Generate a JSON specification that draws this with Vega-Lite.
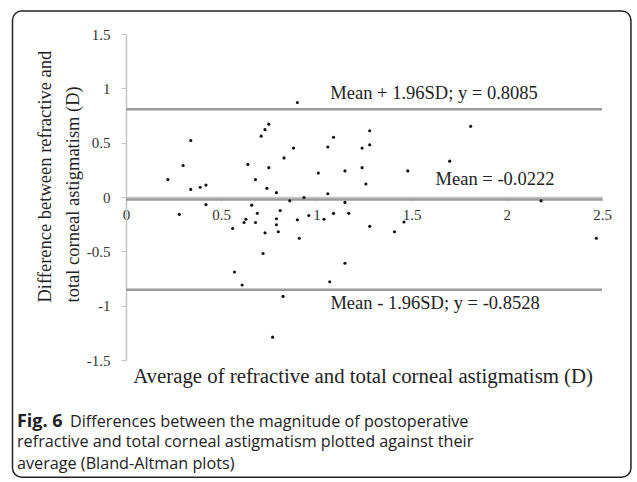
{
  "$schema": "https://vega.github.io/schema/vega-lite/v6.json",
  "width": 476,
  "height": 326,
  "autosize": {"type": "none"},
  "padding": {"left": 126, "top": 34, "right": 35, "bottom": 122},
  "background": "white",
  "config": {
    "view": {"stroke": null},
    "axis": {"grid": false}
  },
  "datasets": {
    "points": [
      {"avg": 0.22, "diff": 0.16}, {"avg": 0.30, "diff": 0.29}, {"avg": 0.34, "diff": 0.52}, {"avg": 0.34, "diff": 0.07},
      {"avg": 0.39, "diff": 0.09}, {"avg": 0.42, "diff": 0.11}, {"avg": 0.64, "diff": 0.30}, {"avg": 0.68, "diff": 0.16},
      {"avg": 0.71, "diff": 0.56}, {"avg": 0.73, "diff": 0.62}, {"avg": 0.75, "diff": 0.67}, {"avg": 0.75, "diff": 0.27},
      {"avg": 0.74, "diff": 0.08}, {"avg": 0.79, "diff": 0.04}, {"avg": 0.83, "diff": 0.36}, {"avg": 0.88, "diff": 0.45},
      {"avg": 0.90, "diff": 0.87}, {"avg": 1.01, "diff": 0.22}, {"avg": 1.06, "diff": 0.46}, {"avg": 1.09, "diff": 0.55},
      {"avg": 1.06, "diff": 0.03}, {"avg": 1.15, "diff": 0.24}, {"avg": 1.24, "diff": 0.45}, {"avg": 1.24, "diff": 0.27},
      {"avg": 1.26, "diff": 0.12}, {"avg": 1.28, "diff": 0.48}, {"avg": 1.28, "diff": 0.61}, {"avg": 1.48, "diff": 0.24},
      {"avg": 1.70, "diff": 0.33}, {"avg": 1.81, "diff": 0.65}, {"avg": 0.935, "diff": -0.005}, {"avg": 0.86, "diff": -0.035},
      {"avg": 1.15, "diff": -0.05}, {"avg": 2.18, "diff": -0.035}, {"avg": 0.28, "diff": -0.16}, {"avg": 0.42, "diff": -0.07},
      {"avg": 0.56, "diff": -0.29}, {"avg": 0.57, "diff": -0.69}, {"avg": 0.61, "diff": -0.81}, {"avg": 0.62, "diff": -0.235},
      {"avg": 0.63, "diff": -0.205}, {"avg": 0.66, "diff": -0.075}, {"avg": 0.68, "diff": -0.235}, {"avg": 0.69, "diff": -0.15},
      {"avg": 0.72, "diff": -0.52}, {"avg": 0.73, "diff": -0.33}, {"avg": 0.77, "diff": -1.29}, {"avg": 0.79, "diff": -0.20},
      {"avg": 0.79, "diff": -0.255}, {"avg": 0.80, "diff": -0.32}, {"avg": 0.81, "diff": -0.125}, {"avg": 0.825, "diff": -0.915},
      {"avg": 0.90, "diff": -0.21}, {"avg": 0.91, "diff": -0.38}, {"avg": 0.96, "diff": -0.17}, {"avg": 1.04, "diff": -0.205},
      {"avg": 1.07, "diff": -0.78}, {"avg": 1.09, "diff": -0.15}, {"avg": 1.15, "diff": -0.61}, {"avg": 1.17, "diff": -0.15},
      {"avg": 1.28, "diff": -0.27}, {"avg": 1.41, "diff": -0.32}, {"avg": 1.46, "diff": -0.23}, {"avg": 2.47, "diff": -0.38}
    ],
    "limits": [
      {"name": "upper", "value": 0.8085, "label": "Mean + 1.96SD; y = 0.8085"},
      {"name": "mean", "value": -0.0222, "label": "Mean = -0.0222"},
      {"name": "lower", "value": -0.8528, "label": "Mean - 1.96SD; y = -0.8528"}
    ],
    "caption": [
      {"line": 1, "t": "Differences between the magnitude of postoperative"},
      {"line": 2, "t": "refractive and total corneal astigmatism plotted against their"},
      {"line": 3, "t": "average (Bland-Altman plots)"}
    ]
  },
  "layer": [
    {
      "data": {"values": [{"frame": 1}]},
      "mark": {"type": "rect", "fill": null, "stroke": "#222", "strokeWidth": 1.5, "cornerRadius": 9},
      "encoding": {
        "x": {"datum": -0.596, "type": "quantitative", "scale": {"domain": [0, 2.5]}},
        "x2": {"datum": 2.652},
        "y": {"datum": 1.711, "type": "quantitative"},
        "y2": {"datum": -2.578}
      }
    },
    {
      "data": {"name": "limits"},
      "mark": {"type": "rule", "color": "#9a9a9a", "strokeWidth": 2.5},
      "encoding": {
        "x": {"datum": 0, "type": "quantitative"},
        "x2": {"datum": 2.5},
        "y": {"field": "value", "type": "quantitative"}
      }
    },
    {
      "data": {"name": "points"},
      "mark": {"type": "circle", "size": 10, "color": "#111", "opacity": 1},
      "encoding": {
        "x": {
          "field": "avg", "type": "quantitative",
          "scale": {"domain": [0, 2.5], "nice": false, "zero": false},
          "axis": {
            "title": null, "values": [0, 0.5, 1, 1.5, 2, 2.5], "offset": -163,
            "labelExpr": "'' + datum.value", "labelFlush": false, "labelOverlap": false,
            "labelFont": "Liberation Serif", "labelFontSize": 15, "labelColor": "#333", "labelPadding": 6,
            "domainColor": "#c4c4c4", "domainWidth": 1.5, "tickColor": "#c4c4c4", "tickSize": 4
          }
        },
        "y": {
          "field": "diff", "type": "quantitative",
          "scale": {"domain": [-1.5, 1.5], "nice": false},
          "axis": {
            "title": ["Difference between refractive and", "total corneal astigmatism (D)"],
            "values": [-1.5, -1, -0.5, 0, 0.5, 1, 1.5],
            "labelExpr": "'' + datum.value", "labelFlush": false, "labelOverlap": false,
            "labelFont": "Liberation Serif", "labelFontSize": 15, "labelColor": "#333", "labelPadding": 11,
            "domainColor": "#c4c4c4", "domainWidth": 1.5, "tickColor": "#c4c4c4", "tickSize": 5,
            "titleFont": "Liberation Serif", "titleFontSize": 18.5, "titleFontWeight": "normal", "titleColor": "#222",
            "titleLineHeight": 28, "titlePadding": 4, "titleAlign": "left", "titleY": 268
          }
        }
      }
    },
    {
      "data": {"name": "limits"},
      "transform": [{"filter": "datum.name === 'upper'"}],
      "mark": {"type": "text", "font": "Liberation Serif", "fontSize": 18.5, "color": "#222", "align": "center", "baseline": "alphabetic", "dy": -10},
      "encoding": {"x": {"datum": 1.618, "type": "quantitative"}, "y": {"field": "value", "type": "quantitative"}, "text": {"field": "label"}}
    },
    {
      "data": {"name": "limits"},
      "transform": [{"filter": "datum.name === 'mean'"}],
      "mark": {"type": "text", "font": "Liberation Serif", "fontSize": 18.5, "color": "#222", "align": "center", "baseline": "alphabetic", "dy": -14},
      "encoding": {"x": {"datum": 1.938, "type": "quantitative"}, "y": {"field": "value", "type": "quantitative"}, "text": {"field": "label"}}
    },
    {
      "data": {"name": "limits"},
      "transform": [{"filter": "datum.name === 'lower'"}],
      "mark": {"type": "text", "font": "Liberation Serif", "fontSize": 18.5, "color": "#222", "align": "center", "baseline": "alphabetic", "dy": 19},
      "encoding": {"x": {"datum": 1.623, "type": "quantitative"}, "y": {"field": "value", "type": "quantitative"}, "text": {"field": "label"}}
    },
    {
      "data": {"values": [{"t": "Average of refractive and total corneal astigmatism (D)"}]},
      "mark": {"type": "text", "font": "Liberation Serif", "fontSize": 20.8, "color": "#222", "align": "center", "baseline": "alphabetic"},
      "encoding": {"x": {"datum": 1.245, "type": "quantitative"}, "y": {"datum": -1.712, "type": "quantitative"}, "text": {"field": "t"}}
    },
    {
      "data": {"values": [{"t": "Fig. 6"}]},
      "mark": {"type": "text", "font": "Open Sans", "fontSize": 18, "fontWeight": "bold", "color": "#222", "align": "left", "baseline": "alphabetic"},
      "encoding": {"x": {"datum": -0.5725, "type": "quantitative"}, "y": {"datum": -2.114, "type": "quantitative"}, "text": {"field": "t"}}
    },
    {
      "data": {"name": "caption"},
      "transform": [{"filter": "datum.line === 1"}],
      "mark": {"type": "text", "font": "Open Sans", "fontSize": 16.2, "color": "#222", "align": "left", "baseline": "alphabetic"},
      "encoding": {"x": {"datum": -0.294, "type": "quantitative"}, "y": {"datum": -2.114, "type": "quantitative"}, "text": {"field": "t"}}
    },
    {
      "data": {"name": "caption"},
      "transform": [{"filter": "datum.line === 2"}],
      "mark": {"type": "text", "font": "Open Sans", "fontSize": 16.2, "color": "#222", "align": "left", "baseline": "alphabetic"},
      "encoding": {"x": {"datum": -0.5725, "type": "quantitative"}, "y": {"datum": -2.303, "type": "quantitative"}, "text": {"field": "t"}}
    },
    {
      "data": {"name": "caption"},
      "transform": [{"filter": "datum.line === 3"}],
      "mark": {"type": "text", "font": "Open Sans", "fontSize": 16.2, "color": "#222", "align": "left", "baseline": "alphabetic"},
      "encoding": {"x": {"datum": -0.5725, "type": "quantitative"}, "y": {"datum": -2.506, "type": "quantitative"}, "text": {"field": "t"}}
    }
  ]
}
